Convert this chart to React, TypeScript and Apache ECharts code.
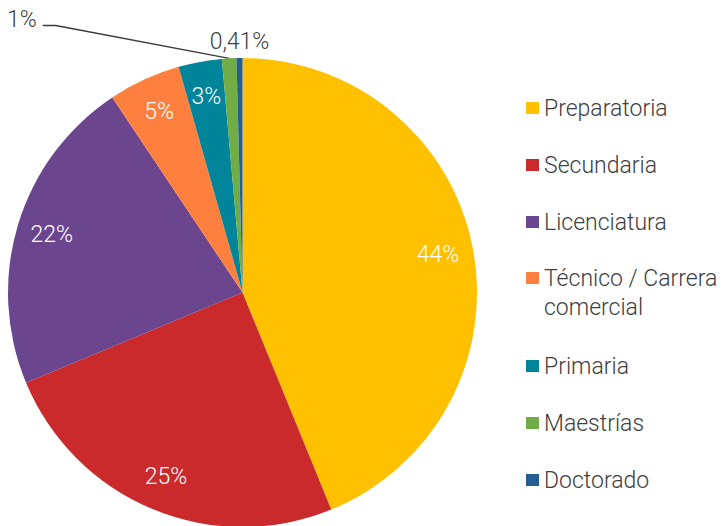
import React, { useEffect, useRef } from "react";
import * as echarts from "echarts";

const categories = [
  "Preparatoria",
  "Secundaria",
  "Licenciatura",
  "Técnico / Carrera comercial",
  "Primaria",
  "Maestrías",
  "Doctorado",
];
const values = [44, 25, 22, 5, 3, 1, 0.41];
const valueLabels = ["44%", "25%", "22%", "5%", "3%", "1%", "0,41%"];
const colors = ["#FFC000", "#CB2A2C", "#6B468F", "#FF7F3F", "#00849A", "#70AD47", "#255E91"];
const outsideIdx = [5, 6];

const FONT = "Roboto";
const TEXT = "#404040";

export default function App() {
  const ref = useRef<HTMLDivElement>(null);
  useEffect(() => {
    if (!ref.current) return;
    const chart = echarts.init(ref.current, null, { renderer: "svg" });
    const center = [242.5, 292.5];
    const R = 234.5;
    const baseText = { fontFamily: FONT, fontWeight: 300, fontSize: 23 };
    const legendText = { ...baseText, color: TEXT, lineHeight: 29 };
    const legendBase = {
      orient: "vertical",
      left: 526,
      itemWidth: 13,
      itemHeight: 12,
      itemGap: 28,
      padding: 0,
      selectedMode: false,
      icon: "rect",
      textStyle: legendText,
    };
    chart.setOption({
      animation: false,
      backgroundColor: "#ffffff",
      legend: [
        { ...legendBase, top: 93.5, data: categories.slice(0, 3) },
        {
          ...legendBase,
          top: 234.5,
          data: [categories[3]],
          formatter: () => "\u00a0\nTécnico / Carrera\ncomercial",
        },
        { ...legendBase, top: 351.5, data: categories.slice(4) },
      ],
      series: [
        {
          type: "pie",
          name: "main",
          center,
          radius: [0, R],
          startAngle: 90,
          clockwise: true,
          silent: true,
          avoidLabelOverlap: false,
          itemStyle: { borderWidth: 0 },
          label: { show: false },
          labelLine: { show: false },
          data: categories.map((name, i) => {
            const item: any = { name, value: values[i], itemStyle: { color: colors[i] } };
            if (i === 5) {
              item.label = {
                show: true,
                position: "outside",
                formatter: valueLabels[i],
                ...baseText,
                color: TEXT,
                lineHeight: 24,
                padding: [0, 6, 13, 0],
              };
              item.labelLine = {
                show: true,
                length: 10,
                length2: 13,
                lineStyle: { color: "#3a3a3a", width: 1.5 },
              };
            } else if (i === 6) {
              item.label = {
                show: true,
                position: "outside",
                formatter: valueLabels[i],
                ...baseText,
                color: TEXT,
              };
              item.labelLine = { show: false };
            }
            return item;
          }),
          labelLayout: (p: any) => {
            if (p.dataIndex === 5) return { x: 7, y: 7, align: "left", verticalAlign: "top" };
            if (p.dataIndex === 6) return { x: 239.5, y: 41, align: "center", verticalAlign: "middle" };
            return {};
          },
        },
        {
          type: "pie",
          name: "labels",
          center,
          radius: [158, R],
          startAngle: 90,
          clockwise: true,
          silent: true,
          avoidLabelOverlap: false,
          itemStyle: { color: "transparent", borderWidth: 0 },
          label: {
            position: "inside",
            ...baseText,
            color: "#ffffff",
            formatter: (p: any) => valueLabels[p.dataIndex],
          },
          labelLine: { show: false },
          data: categories.map((name, i) => ({
            name,
            value: values[i],
            label: { show: !outsideIdx.includes(i) },
          })),
        },
      ],
    });
    return () => chart.dispose();
  }, []);
  return (
    <div
      ref={ref}
      style={{ position: "absolute", left: 0, top: 0, width: 726, height: 526 }}
    />
  );
}
